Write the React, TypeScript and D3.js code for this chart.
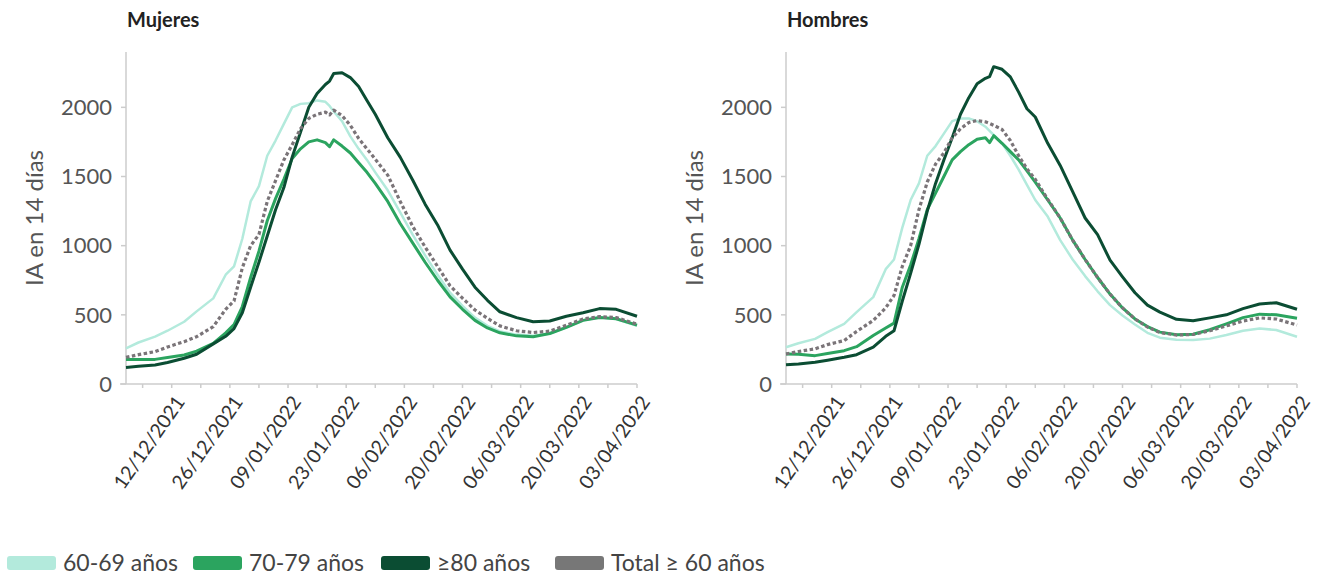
import { useEffect, useRef } from 'react';
import * as d3 from 'd3';

// sample dates (roughly every 2-4 days)
const dates = [
    '2021-12-01', '2021-12-04', '2021-12-08', '2021-12-11', '2021-12-15', '2021-12-18', '2021-12-22', '2021-12-25',
    '2021-12-27', '2021-12-29', '2021-12-31', '2022-01-02', '2022-01-04', '2022-01-06', '2022-01-08', '2022-01-10',
    '2022-01-12', '2022-01-14', '2022-01-16', '2022-01-18', '2022-01-19', '2022-01-20', '2022-01-22', '2022-01-24',
    '2022-01-26', '2022-01-28', '2022-01-30', '2022-02-02', '2022-02-05', '2022-02-08', '2022-02-11', '2022-02-14',
    '2022-02-17', '2022-02-20', '2022-02-23', '2022-02-26', '2022-03-01', '2022-03-05', '2022-03-09', '2022-03-13',
    '2022-03-17', '2022-03-21', '2022-03-25', '2022-03-29', '2022-04-03',
];

const mujeres6069 = [258, 300, 342, 385, 450, 525, 619, 790, 850, 1050, 1320, 1430, 1650, 1760, 1880, 2000, 2025, 2030, 2050, 2040,
    2010, 1970, 1900, 1790, 1700, 1620, 1530, 1400, 1240, 1080, 930, 790, 660, 565, 480, 420, 380, 357, 348, 365,
    410, 460, 482, 470, 420];
const mujeres7079 = [178, 178, 178, 192, 210, 238, 294, 370, 430, 560, 770, 960, 1180, 1340, 1480, 1630, 1700, 1750, 1765, 1745,
    1715, 1765, 1720, 1670, 1600, 1530, 1450, 1320, 1160, 1020, 880, 750, 630, 540, 460, 405, 370, 348, 342, 365,
    410, 460, 480, 472, 426];
const mujeres80 = [120, 128, 137, 155, 186, 215, 290, 345, 400, 515, 700, 880, 1070, 1260, 1420, 1640, 1820, 2000, 2100, 2165,
    2190, 2245, 2250, 2215, 2150, 2050, 1950, 1780, 1640, 1475, 1300, 1150, 968, 830, 700, 605, 522, 480, 450, 455,
    490, 515, 545, 540, 490];
const mujeresTotal = [193, 212, 234, 268, 306, 342, 415, 540, 600, 840, 1000, 1080, 1320, 1470, 1620, 1730, 1845, 1920, 1950, 1965,
    1945, 1980, 1940, 1870, 1775, 1700, 1625, 1510, 1320, 1140, 990, 850, 710, 620, 535, 475, 420, 385, 372, 382,
    425, 470, 487, 480, 433];

const hombres6069 = [266, 295, 326, 375, 435, 520, 628, 830, 900, 1130, 1330, 1450, 1650, 1720, 1810, 1900, 1920, 1920, 1900, 1860,
    1830, 1800, 1740, 1650, 1550, 1440, 1330, 1210, 1040, 900, 780, 670, 570, 495, 430, 370, 335, 320, 318, 328,
    354, 385, 402, 390, 342];
const hombres7079 = [217, 215, 205, 220, 241, 270, 350, 405, 440, 700, 860, 1050, 1260, 1380, 1500, 1620, 1680, 1730, 1770, 1780,
    1745, 1795, 1740, 1680, 1620, 1540, 1460, 1330, 1200, 1040, 900, 770, 650, 550, 470, 415, 375, 356, 360, 392,
    435, 480, 505, 500, 475];
const hombres80 = [140, 145, 157, 172, 193, 212, 266, 345, 385, 600, 800, 1010, 1250, 1450, 1620, 1780, 1950, 2070, 2170, 2210,
    2222, 2294, 2275, 2220, 2110, 1990, 1930, 1740, 1580, 1390, 1200, 1080, 895, 775, 660, 570, 520, 468, 457, 478,
    500, 545, 578, 587, 540];
const hombresTotal = [217, 235, 254, 285, 314, 380, 459, 550, 640, 850, 1000, 1260, 1460, 1590, 1670, 1780, 1845, 1890, 1905, 1895,
    1884, 1870, 1840, 1760, 1650, 1555, 1480, 1335, 1200, 1040, 900, 770, 650, 550, 470, 412, 372, 354, 358, 385,
    420, 455, 478, 470, 426];

const seriesNames = ['60-69 años', '70-79 años', '≥80 años', 'Total ≥ 60 años'];
const yTicks = [0, 500, 1000, 1500, 2000];

const colors = ['#b3eadc', '#2ba45f', '#0b4d33', '#777777'];
const lineColors = ['#b3eadc', '#2ba45f', '#0b4d33', '#7a7478'];
const widths = [2.5, 3, 3, 3.2];
const FONT = 'Lato, "Open Sans", sans-serif';

const App = () => {
    const svgRef = useRef<SVGSVGElement | null>(null);

    useEffect(() => {
        if (!svgRef.current) return;
        const svg = d3.select(svgRef.current);
        svg.selectAll('*').remove();

        const parse = d3.utcParse('%Y-%m-%d');
        const xs = dates.map(d => parse(d) as Date);
        const fmt = d3.utcFormat('%d/%m/%Y');
        const firstLabel = parse('2021-12-12') as Date;

        const panels = [
            { title: 'Mujeres', x0: 126, data: [mujeres6069, mujeres7079, mujeres80, mujeresTotal] },
            { title: 'Hombres', x0: 786, data: [hombres6069, hombres7079, hombres80, hombresTotal] },
        ];

        panels.forEach(p => {
            const g = svg.append('g');
            const x = d3.scaleUtc()
                .domain([parse('2021-12-01') as Date, parse('2022-04-03') as Date])
                .range([p.x0, p.x0 + 511]);
            const y = d3.scaleLinear().domain([0, 2400]).range([384, 52]);

            // title
            g.append('text')
                .attr('x', p.x0 + 1)
                .attr('y', 27)
                .attr('font-family', FONT)
                .attr('font-weight', 'bold')
                .attr('font-size', 20)
                .attr('fill', '#222')
                .text(p.title);

            // y axis
            g.append('line')
                .attr('x1', p.x0).attr('x2', p.x0)
                .attr('y1', y(2400)).attr('y2', y(0))
                .attr('stroke', '#cccccc').attr('stroke-width', 1.5);
            g.selectAll('.ytick')
                .data(yTicks)
                .join('line')
                .attr('x1', p.x0 - 5).attr('x2', p.x0)
                .attr('y1', d => y(d)).attr('y2', d => y(d))
                .attr('stroke', '#cccccc').attr('stroke-width', 1.5);
            g.selectAll('.ylab')
                .data(yTicks)
                .join('text')
                .attr('x', p.x0 - 14)
                .attr('y', d => y(d))
                .attr('dy', '0.35em')
                .attr('text-anchor', 'end')
                .attr('font-family', FONT)
                .attr('font-size', 22)
                .attr('fill', '#555')
                .text(d => d);

            g.append('text')
                .attr('transform', `translate(${p.x0 - 93},${(y(0) + y(2400)) / 2}) rotate(-90)`)
                .attr('text-anchor', 'middle')
                .attr('dominant-baseline', 'central')
                .attr('font-family', FONT)
                .attr('font-size', 24)
                .attr('fill', '#555')
                .text('IA en 14 días');

            // x axis
            g.append('line')
                .attr('x1', p.x0 - 6).attr('x2', p.x0 + 511)
                .attr('y1', y(0)).attr('y2', y(0))
                .attr('stroke', '#cccccc').attr('stroke-width', 1.5);
            const weeks = x.ticks(d3.utcSunday);
            g.selectAll('.xtick')
                .data(weeks)
                .join('line')
                .attr('x1', d => x(d)).attr('x2', d => x(d))
                .attr('y1', y(0)).attr('y2', y(0) + 4)
                .attr('stroke', '#cccccc').attr('stroke-width', 1.5);
            const labelled = weeks.filter(d => Math.round((+d - +firstLabel) / 864e5) % 14 === 0 && +d >= +firstLabel);
            g.selectAll('.xlab')
                .data(labelled)
                .join('text')
                .attr('transform', d => `translate(${x(d) + 14},${y(0) + 18}) rotate(-55)`)
                .attr('text-anchor', 'end')
                .attr('font-family', FONT)
                .attr('font-size', 19.5)
                .attr('fill', '#333')
                .text(d => fmt(d));

            // lines
            const line = d3.line<number>()
                .x((_, i) => x(xs[i]))
                .y(d => y(d));
            p.data.forEach((vals, k) => {
                g.append('path')
                    .datum(vals)
                    .attr('d', line)
                    .attr('fill', 'none')
                    .attr('stroke', lineColors[k])
                    .attr('stroke-width', widths[k])
                    .attr('stroke-linejoin', 'round')
                    .attr('stroke-dasharray', k === 3 ? '3.5,2.5' : null);
            });
        });

        // legend
        const legendX = [7, 193, 381, 555];
        const lg = svg.append('g')
            .selectAll('g')
            .data(seriesNames)
            .join('g')
            .attr('transform', (_, i) => `translate(${legendX[i]},556)`);
        lg.append('rect')
            .attr('width', 49).attr('height', 14).attr('rx', 3)
            .attr('fill', (_, i) => colors[i]);
        lg.append('text')
            .attr('x', 56)
            .attr('y', 7)
            .attr('dy', '0.36em')
            .attr('font-family', FONT)
            .attr('font-size', 23)
            .attr('fill', '#444')
            .text(d => d);
    }, []);

    return (
        <svg ref={svgRef} width={1321} height={581}
            style={{ position: 'absolute', left: 0, top: 0, background: '#fff' }} />
    );
};

export default App;
